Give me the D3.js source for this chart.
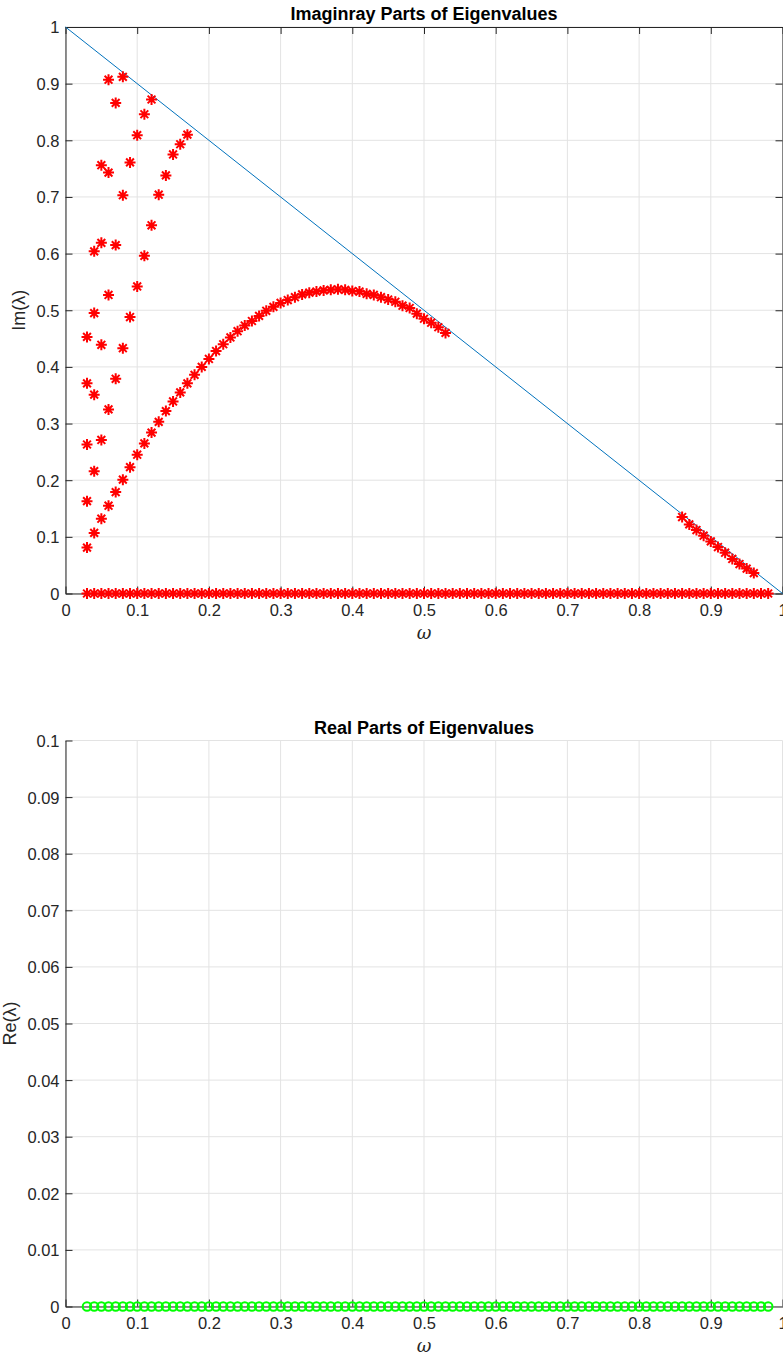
<!DOCTYPE html>
<html>
<head>
<meta charset="utf-8">
<script src="https://cdn.jsdelivr.net/npm/d3@7"></script>
<style>
  html, body { margin: 0; padding: 0; background: #fff; }
  svg { display: block; font-family: "Liberation Sans", Arial, Helvetica, sans-serif; }
</style>
</head>
<body>
<svg id="fig" width="783" height="1358"></svg>
<script>
// Frequency grid of the sweep
const omegaGrid = [0.03,0.04,0.05,0.06,0.07,0.08,0.09,0.10,0.11,0.12,0.13,0.14,0.15,0.16,0.17,0.18,0.19,0.20,
  0.21,0.22,0.23,0.24,0.25,0.26,0.27,0.28,0.29,0.30,0.31,0.32,0.33,0.34,0.35,0.36,0.37,0.38,0.39,0.40,
  0.41,0.42,0.43,0.44,0.45,0.46,0.47,0.48,0.49,0.50,0.51,0.52,0.53,0.54,0.55,0.56,0.57,0.58,0.59,0.60,
  0.61,0.62,0.63,0.64,0.65,0.66,0.67,0.68,0.69,0.70,0.71,0.72,0.73,0.74,0.75,0.76,0.77,0.78,0.79,0.80,
  0.81,0.82,0.83,0.84,0.85,0.86,0.87,0.88,0.89,0.90,0.91,0.92,0.93,0.94,0.95,0.96,0.97,0.98];

// Eigenvalues sitting on the real axis (Im = 0) and their real parts (all 0)
const imZero = [0,0,0,0,0,0,0,0,0,0,0,0,0,0,0,0,0,0,0,0,0,0,0,0,0,0,0,0,0,0,0,0,0,0,0,0,0,0,0,0,0,0,0,0,0,0,0,0,
  0,0,0,0,0,0,0,0,0,0,0,0,0,0,0,0,0,0,0,0,0,0,0,0,0,0,0,0,0,0,0,0,0,0,0,0,0,0,0,0,0,0,0,0,0,0,0,0];
const reParts = [0,0,0,0,0,0,0,0,0,0,0,0,0,0,0,0,0,0,0,0,0,0,0,0,0,0,0,0,0,0,0,0,0,0,0,0,0,0,0,0,0,0,0,0,0,0,0,0,
  0,0,0,0,0,0,0,0,0,0,0,0,0,0,0,0,0,0,0,0,0,0,0,0,0,0,0,0,0,0,0,0,0,0,0,0,0,0,0,0,0,0,0,0,0,0,0,0];

// Lowest complex branch (arch)
const branch1Omega = [0.03,0.04,0.05,0.06,0.07,0.08,0.09,0.10,0.11,0.12,0.13,0.14,0.15,0.16,0.17,0.18,0.19,0.20,
  0.21,0.22,0.23,0.24,0.25,0.26,0.27,0.28,0.29,0.30,0.31,0.32,0.33,0.34,0.35,0.36,0.37,0.38,0.39,0.40,
  0.41,0.42,0.43,0.44,0.45,0.46,0.47,0.48,0.49,0.50,0.51,0.52,0.53];
const branch1Im = [0.081,0.107,0.132,0.155,0.179,0.201,0.223,0.245,0.265,0.284,0.303,0.322,0.339,0.355,0.371,0.386,0.400,0.414,
  0.428,0.440,0.452,0.463,0.473,0.481,0.490,0.499,0.506,0.513,0.518,0.523,0.528,0.531,0.533,0.535,0.536,0.537,0.536,0.534,
  0.533,0.529,0.527,0.523,0.519,0.515,0.508,0.504,0.494,0.485,0.478,0.470,0.460];

// Higher branches at low frequency
const branch2Omega = [0.03,0.04,0.05,0.06,0.07,0.08,0.09,0.10,0.11,0.12,0.13,0.14,0.15,0.16,0.17];
const branch2Im = [0.163,0.216,0.271,0.325,0.379,0.433,0.488,0.542,0.596,0.650,0.704,0.738,0.775,0.793,0.810];
const branch3Omega = [0.03,0.04,0.05,0.06,0.07,0.08,0.09,0.10,0.11,0.12];
const branch3Im = [0.263,0.351,0.439,0.527,0.615,0.703,0.761,0.809,0.846,0.872];
const branch4Omega = [0.03,0.04,0.05,0.06,0.07,0.08];
const branch4Im = [0.371,0.495,0.619,0.743,0.866,0.912];
const branch5Omega = [0.03,0.04,0.05,0.06];
const branch5Im = [0.453,0.604,0.756,0.907];

// High-frequency branch near the bound
const tailOmega = [0.86,0.87,0.88,0.89,0.90,0.91,0.92,0.93,0.94,0.95,0.96];
const tailIm = [0.135,0.122,0.112,0.102,0.092,0.082,0.072,0.061,0.052,0.044,0.036];

// Reference bound Im = 1 - omega
const boundOmega = [0, 1];
const boundIm = [1, 0];

const xTicks = [0,0.1,0.2,0.3,0.4,0.5,0.6,0.7,0.8,0.9,1];
const yTicksTop = [0,0.1,0.2,0.3,0.4,0.5,0.6,0.7,0.8,0.9,1];
const yTicksBottom = [0,0.01,0.02,0.03,0.04,0.05,0.06,0.07,0.08,0.09,0.1];

const svg = d3.select("#fig");
const axisColor = "#262626";
const gridColor = "#e3e3e3";
const tickFont = 16.5;
const labelFont = 18;
const fmt = v => String(+v.toFixed(3));

function zip(xs, ys) { return xs.map((x, i) => [x, ys[i]]); }

function panel(opt) {
  const x = d3.scaleLinear().domain([0, 1]).range([65.5, 782.5]);
  const y = d3.scaleLinear().domain(opt.yDomain).range([opt.bottom, opt.top]);
  const g = svg.append("g");

  // grid
  g.append("g").selectAll("line").data(xTicks).join("line")
    .attr("x1", d => x(d)).attr("x2", d => x(d))
    .attr("y1", opt.top).attr("y2", opt.bottom)
    .attr("stroke", gridColor).attr("stroke-width", 1);
  g.append("g").selectAll("line").data(opt.yTicks).join("line")
    .attr("x1", x(0)).attr("x2", x(1))
    .attr("y1", d => y(d)).attr("y2", d => y(d))
    .attr("stroke", gridColor).attr("stroke-width", 1);

  // axes
  const xAxis = d3.axisBottom(x).tickValues(xTicks).tickFormat(fmt).tickSizeInner(-7).tickSizeOuter(0);
  const yAxis = d3.axisLeft(y).tickValues(opt.yTicks).tickFormat(fmt).tickSizeInner(-7).tickSizeOuter(0).tickPadding(6);
  const gx = g.append("g").attr("transform", `translate(0,${opt.bottom})`).call(xAxis);
  const gy = g.append("g").attr("transform", `translate(${x(0)},0)`).call(yAxis);
  [gx, gy].forEach(a => {
    a.select(".domain").attr("stroke", axisColor);
    a.selectAll(".tick line").attr("stroke", axisColor);
    a.selectAll("text").attr("fill", axisColor).attr("font-size", tickFont);
  });
  gx.selectAll("text").attr("y", 22.5).attr("dy", null);
  gy.selectAll("text").attr("dy", "0.36em");

  if (opt.box) {
    const gt = g.append("g").attr("transform", `translate(0,${opt.top})`)
      .call(d3.axisTop(x).tickValues(xTicks).tickFormat("").tickSizeInner(-7).tickSizeOuter(0));
    const gr = g.append("g").attr("transform", `translate(${x(1)},0)`)
      .call(d3.axisRight(y).tickValues(opt.yTicks).tickFormat("").tickSizeInner(-7).tickSizeOuter(0));
    [gt, gr].forEach(a => {
      a.select(".domain").attr("stroke", axisColor);
      a.selectAll(".tick line").attr("stroke", axisColor);
    });
  }

  // title and labels
  svg.append("text").attr("x", (x(0) + x(1)) / 2).attr("y", opt.top - 7)
    .attr("text-anchor", "middle").attr("font-size", labelFont).attr("font-weight", "bold")
    .attr("fill", "#000").text(opt.title);
  svg.append("text").attr("x", (x(0) + x(1)) / 2).attr("y", opt.bottom + 45)
    .attr("text-anchor", "middle").attr("font-size", labelFont).attr("font-style", "italic")
    .attr("font-family", "'DejaVu Serif', serif")
    .attr("fill", axisColor).text("ω");
  svg.append("text")
    .attr("transform", `translate(${opt.ylabelX},${(opt.top + opt.bottom) / 2}) rotate(-90)`)
    .attr("text-anchor", "middle").attr("font-size", labelFont)
    .attr("fill", axisColor).text(opt.ylabel);

  return { x, y, g };
}

// ---- Top panel: imaginary parts ----
const imPanel = panel({ top: 27, bottom: 593.5, yDomain: [0, 1], yTicks: yTicksTop, box: true,
  title: "Imaginray Parts of Eigenvalues", ylabel: "Im(λ)", ylabelX: 24.5 });

imPanel.g.append("path")
  .datum(zip(boundOmega, boundIm))
  .attr("d", d3.line().x(d => imPanel.x(d[0])).y(d => imPanel.y(d[1])))
  .attr("fill", "none").attr("stroke", "#0072BD").attr("stroke-width", 1);

const star = "M-5.5,0H5.5M0,-5.5V5.5M-3.9,-3.9L3.9,3.9M-3.9,3.9L3.9,-3.9";
const imPoints = [].concat(
  zip(omegaGrid, imZero),
  zip(branch1Omega, branch1Im),
  zip(branch2Omega, branch2Im),
  zip(branch3Omega, branch3Im),
  zip(branch4Omega, branch4Im),
  zip(branch5Omega, branch5Im),
  zip(tailOmega, tailIm)
);
imPanel.g.append("g").selectAll("path").data(imPoints).join("path")
  .attr("transform", d => `translate(${imPanel.x(d[0])},${imPanel.y(d[1])})`)
  .attr("d", star)
  .attr("fill", "none").attr("stroke", "#ff0000").attr("stroke-width", 2);

// ---- Bottom panel: real parts ----
const rePanel = panel({ top: 740.5, bottom: 1306.5, yDomain: [0, 0.1], yTicks: yTicksBottom, box: false,
  title: "Real Parts of Eigenvalues", ylabel: "Re(λ)", ylabelX: 15.5 });

rePanel.g.append("g").selectAll("circle").data(zip(omegaGrid, reParts)).join("circle")
  .attr("cx", d => rePanel.x(d[0])).attr("cy", d => rePanel.y(d[1])).attr("r", 4.3)
  .attr("fill", "none").attr("stroke", "#00ff00").attr("stroke-width", 2);
</script>
</body>
</html>
